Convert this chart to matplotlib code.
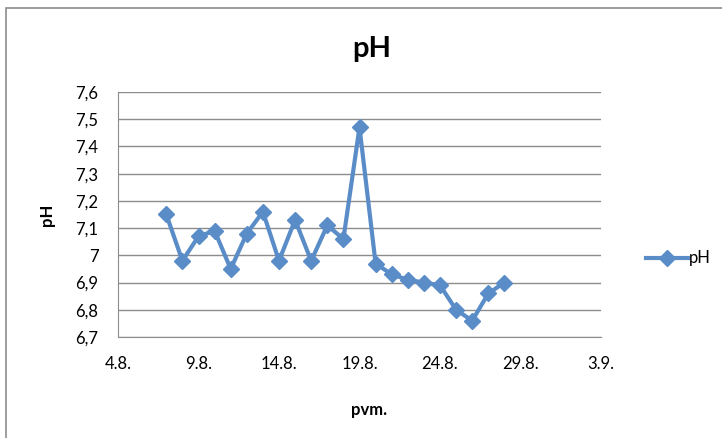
import matplotlib
matplotlib.use("Agg")
import matplotlib.pyplot as plt
from matplotlib.patches import Rectangle
from matplotlib.lines import Line2D

# Data: days of August (7.8. .. 28.8.) and pH values
days = list(range(7, 29))
ph = [7.15, 6.98, 7.07, 7.09, 6.95, 7.08, 7.16, 6.98, 7.13, 6.98, 7.11, 7.06,
      7.47, 6.97, 6.93, 6.91, 6.90, 6.89, 6.80, 6.76, 6.86, 6.90]
xtick_pos = [4, 9, 14, 19, 24, 29, 34]
xtick_labels = ["4.8.", "9.8.", "14.8.", "19.8.", "24.8.", "29.8.", "3.9."]
yticks = [6.7, 6.8, 6.9, 7.0, 7.1, 7.2, 7.3, 7.4, 7.5, 7.6]
ytick_labels = ["6,7", "6,8", "6,9", "7", "7,1", "7,2", "7,3", "7,4", "7,5", "7,6"]

plt.rcParams['font.family'] = ['Lato', 'DejaVu Sans']

W, H = 722, 438
fig = plt.figure(figsize=(W / 100, H / 100), dpi=100)
fig.patch.set_facecolor('white')

# outer chart border (cropped at right/bottom)
fig.add_artist(Rectangle((6 / W, -0.05), 1.2, 1 - 8 / H + 0.05, transform=fig.transFigure,
                         fill=False, edgecolor='#8c8c8c', linewidth=1.2))

ax = fig.add_axes([118 / W, 1 - 337 / H, (601 - 118) / W, (337 - 92) / H])
color = '#5A8DC8'
ax.plot(days, ph, color=color, linewidth=3.0, marker='D', markersize=8,
        markerfacecolor=color, markeredgecolor=color, label='pH')

ax.set_xlim(4, 34)
ax.set_ylim(6.7, 7.6)
ax.set_xticks(xtick_pos)
ax.set_xticklabels(xtick_labels)
ax.set_yticks(yticks)
ax.set_yticklabels(ytick_labels)
ax.tick_params(axis='both', length=0, labelsize=12, colors='black')
ax.tick_params(axis='x', pad=14)
ax.tick_params(axis='y', pad=14)
ax.grid(axis='y', color='#8c8c8c', linewidth=1.0)
ax.set_axisbelow(True)
for s in ['top', 'right']:
    ax.spines[s].set_visible(False)
ax.spines['left'].set_color('#8c8c8c')
ax.spines['bottom'].set_color('#8c8c8c')

fig.text(372 / W, 1 - 57 / H, 'pH', ha='center', va='baseline', fontsize=21, fontweight='bold')
fig.text(47 / W, 1 - 215 / H, 'pH', ha='center', va='center', fontsize=12,
         fontweight='bold', rotation=90)
fig.text(369 / W, 1 - 410 / H, 'pvm.', ha='center', va='center', fontsize=12, fontweight='bold')

# legend
fig.add_artist(Line2D([646 / W, 688 / W], [1 - 258 / H, 1 - 258 / H], transform=fig.transFigure,
                      color=color, linewidth=3.0))
fig.add_artist(Line2D([667 / W], [1 - 258 / H], transform=fig.transFigure, color=color,
                      marker='D', markersize=8, markerfacecolor=color, markeredgecolor=color))
fig.text(689 / W, 1 - 258 / H, 'pH', ha='left', va='center', fontsize=12)

fig.savefig('out.png', dpi=100)
